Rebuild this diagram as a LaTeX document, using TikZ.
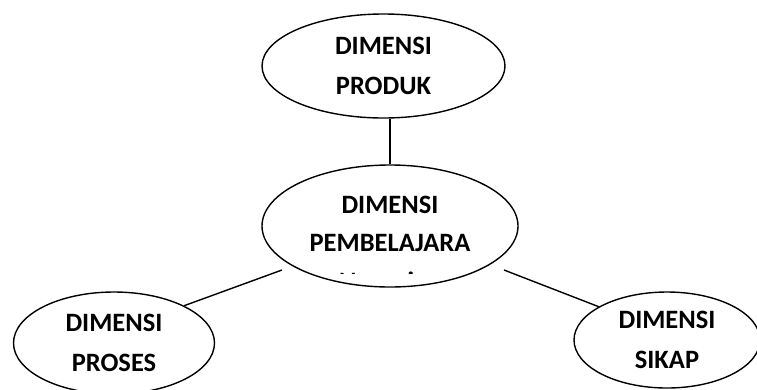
\documentclass[tikz,border=0pt]{standalone}
\usepackage{fontspec}
\setmainfont{Carlito}
\usetikzlibrary{shapes.geometric}
\begin{document}
\begin{tikzpicture}[x=1pt, y=-1pt, line width=1.4pt,
        main/.style = {draw, ellipse, inner sep=0pt, align=center,
                       font=\bfseries\fontsize{26.5}{40}\selectfont}]
        \clip (0,0) rectangle (757,389);
        \node[main, minimum width=243pt, minimum height=104pt] (produk) at (383.5,66) {DIMENSI\\PRODUK};
        \node[main, minimum width=256pt, minimum height=122pt] (pembelajaran) at (390,226) {};
        \node[main, minimum width=201pt, minimum height=102pt] (proses) at (114,343) {DIMENSI\\PROSES};
        \node[main, minimum width=186pt, minimum height=96pt] (sikap) at (667,340) {DIMENSI\\SIKAP};
        % the text box cuts the third line short
        \begin{scope}
            \clip (250,160) rectangle (530,273);
            \node[anchor=north, inner sep=0pt, align=center,
                  font=\bfseries\fontsize{26.5}{38.5}\selectfont] (judul) at (390,195) {DIMENSI\\PEMBELAJARA\\N masing};
        \end{scope}
        \coordinate (kiri) at (282,270);
        \coordinate (kanan) at (504,270);
        \draw (pembelajaran.north) -- (pembelajaran.north |- produk.south);
        \draw (proses.28) -- (kiri);
        \draw (kanan) -- (sikap.154);
    \end{tikzpicture}
\end{document}
